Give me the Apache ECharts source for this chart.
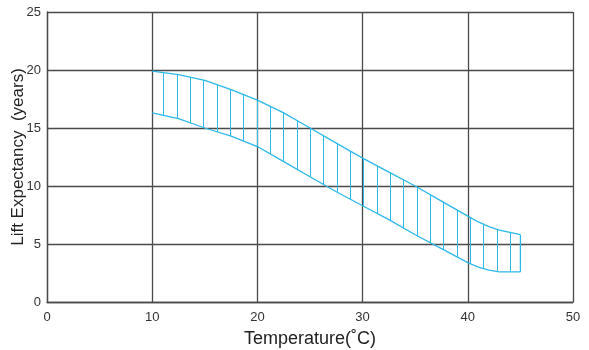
<!DOCTYPE html>
<html>
<head>
<meta charset="utf-8">
<style>
  html, body { margin: 0; padding: 0; background: #fff; }
  #chart { width: 589px; height: 350px; }
</style>
<script src="https://cdn.jsdelivr.net/npm/echarts@6/dist/echarts.min.js"></script>
</head>
<body>
<div id="chart"></div>
<script>
// Temperature (°C) sample points along the band
const temps = [10, 12.5, 15, 17.5, 20, 22.5, 25, 27.5, 30, 32.5, 35, 37.5, 40, 41, 42, 43, 45];
// Upper bound of expected life (years)
const upperLife = [19.9, 19.6, 19.1, 18.3, 17.4, 16.3, 15.0, 13.7, 12.4, 11.2, 10.0, 8.7, 7.4, 6.9, 6.5, 6.2, 5.8];
// Lower bound of expected life (years)
const lowerLife = [16.3, 15.8, 15.0, 14.3, 13.4, 12.1, 10.8, 9.5, 8.3, 7.1, 5.8, 4.6, 3.4, 3.0, 2.75, 2.6, 2.6];

const xTicks = [0, 10, 20, 30, 40, 50];
const yTicks = [0, 5, 10, 15, 20, 25];

const bandColor = '#2cb8ea';
const gridColor = '#4a4a4a';
const font = 'Liberation Sans, Arial';

// Vertical hatch tile for the band (three strokes per 40px tile)
const tile = document.createElement('canvas');
tile.width = 40; tile.height = 8;
const tctx = tile.getContext('2d');
tctx.fillStyle = bandColor;
[0, 13, 27].forEach(function (px) { tctx.fillRect(px, 0, 1, 8); });

const chart = echarts.init(document.getElementById('chart'), null, { renderer: 'canvas' });

// Band: hatched polygon between the two bounds, outlined on all sides except the left
function renderBand(params, api) {
  const top = temps.map((t, i) => api.coord([t, upperLife[i]]));
  const bottom = temps.map((t, i) => api.coord([t, lowerLife[i]]));
  const poly = top.concat(bottom.slice().reverse());
  const x0 = Math.round(top[0][0]) - 2;
  const last = temps.length - 1;
  const lineStyle = { stroke: bandColor, lineWidth: 1.3, fill: null };
  return {
    type: 'group',
    children: [
      {
        type: 'polygon',
        shape: { points: poly },
        style: { fill: { image: tile, repeat: 'repeat', x: x0, y: 0 }, stroke: null }
      },
      { type: 'polyline', shape: { points: top }, style: lineStyle },
      { type: 'polyline', shape: { points: bottom }, style: lineStyle },
      { type: 'line', shape: { x1: top[last][0], y1: top[last][1], x2: bottom[last][0], y2: bottom[last][1] }, style: lineStyle }
    ]
  };
}

chart.setOption({
  animation: false,
  grid: { left: 47, right: 16, top: 12, bottom: 48, containLabel: false, outerBoundsMode: 'none' },
  xAxis: {
    type: 'value',
    min: xTicks[0], max: xTicks[xTicks.length - 1], interval: 10,
    name: 'Temperature(˚C)',
    nameLocation: 'middle', nameGap: 28,
    nameTextStyle: { fontFamily: font, fontSize: 18, color: '#222' },
    axisLine: { show: true, lineStyle: { color: gridColor, width: 1.3 } },
    axisTick: { show: false },
    axisLabel: { fontFamily: font, fontSize: 13, color: '#333', margin: 9 },
    splitLine: { show: true, lineStyle: { color: gridColor, width: 1.3 } }
  },
  yAxis: {
    type: 'value',
    min: yTicks[0], max: yTicks[yTicks.length - 1], interval: 5,
    name: 'Lift Expectancy  (years)',
    nameLocation: 'middle', nameGap: 20, nameMoveOverlap: false,
    nameTextStyle: { fontFamily: font, fontSize: 17, color: '#222' },
    axisLine: { show: true, lineStyle: { color: gridColor, width: 1.3 } },
    axisTick: { show: false },
    axisLabel: { fontFamily: font, fontSize: 13, color: '#333', margin: 6 },
    splitLine: { show: true, lineStyle: { color: gridColor, width: 1.3 } }
  },
  series: [
    {
      type: 'custom',
      data: [0],
      renderItem: renderBand,
      z: 3
    }
  ]
});
</script>
</body>
</html>
